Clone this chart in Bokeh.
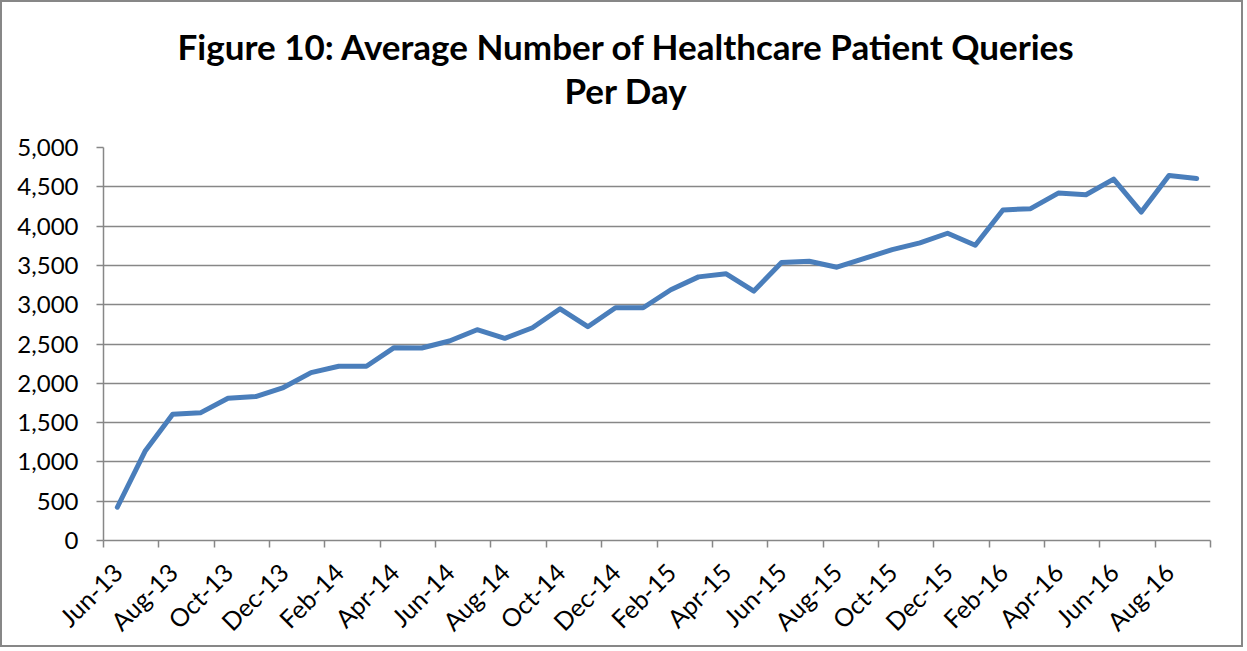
import math
from bokeh.plotting import figure
from bokeh.models import FixedTicker, NumeralTickFormatter, Range1d, Title
from bokeh.embed import file_html
from bokeh.resources import INLINE

months = ["Jun-13", "Jul-13", "Aug-13", "Sep-13", "Oct-13", "Nov-13", "Dec-13",
          "Jan-14", "Feb-14", "Mar-14", "Apr-14", "May-14", "Jun-14", "Jul-14",
          "Aug-14", "Sep-14", "Oct-14", "Nov-14", "Dec-14", "Jan-15", "Feb-15",
          "Mar-15", "Apr-15", "May-15", "Jun-15", "Jul-15", "Aug-15", "Sep-15",
          "Oct-15", "Nov-15", "Dec-15", "Jan-16", "Feb-16", "Mar-16", "Apr-16",
          "May-16", "Jun-16", "Jul-16", "Aug-16", "Sep-16"]
queries = [423, 1134, 1607, 1624, 1810, 1832, 1946, 2136, 2217, 2217,
           2453, 2449, 2538, 2682, 2572, 2707, 2948, 2720, 2961, 2961,
           3190, 3354, 3393, 3173, 3536, 3553, 3477, 3590, 3701, 3786,
           3909, 3756, 4205, 4222, 4420, 4399, 4598, 4179, 4645, 4607]
y_ticks = [0, 500, 1000, 1500, 2000, 2500, 3000, 3500, 4000, 4500, 5000]
title_lines = ["Figure 10: Average Number of Healthcare Patient Queries", "Per Day"]

FONT = "Lato"
GRID = "#878787"

n = len(months)
xs = [i + 0.5 for i in range(n)]

p = figure(width=1243, height=647, output_backend="svg", toolbar_location=None,
           x_range=Range1d(0, n), y_range=Range1d(0, 5000),
           min_border_left=101, min_border_right=35, min_border_top=145,
           min_border_bottom=108)
p.styles = {"border": "2px solid #878787"}
p.outline_line_color = None
p.background_fill_color = "white"
p.border_fill_color = "white"

p.line(xs, queries, line_color="#4A7EBB", line_width=5, line_join="round",
       line_cap="round")

# x axis
label_pos = [xs[i] for i in range(0, n, 2)]
xax = p.xaxis[0]
xax.ticker = FixedTicker(ticks=label_pos, minor_ticks=list(range(0, n + 1, 2)))
xax.major_label_overrides = {xs[i]: months[i] for i in range(0, n, 2)}
xax.major_label_orientation = math.pi / 4
xax.major_tick_out = 0
xax.major_tick_in = 0
xax.minor_tick_out = 7
xax.minor_tick_in = 0
xax.minor_tick_line_color = GRID
xax.minor_tick_line_width = 1.5
xax.axis_line_color = GRID
xax.axis_line_width = 1.5
xax.major_label_standoff = 20
xax.major_label_text_font = FONT
xax.major_label_text_font_size = "25px"
xax.major_label_text_color = "black"

# y axis
yax = p.yaxis[0]
yax.ticker = FixedTicker(ticks=y_ticks, minor_ticks=[])
yax.formatter = NumeralTickFormatter(format="0,0")
yax.major_tick_out = 7
yax.major_tick_in = 0
yax.major_tick_line_color = GRID
yax.major_tick_line_width = 1.5
yax.axis_line_color = GRID
yax.axis_line_width = 1.5
yax.major_label_standoff = 18
yax.major_label_text_font = FONT
yax.major_label_text_font_size = "24px"
yax.major_label_text_color = "black"

p.xgrid.visible = False
p.ygrid.grid_line_color = GRID
p.ygrid.grid_line_width = 1.5

# title: spacer next to the frame, then the two title lines
spacer = Title(text=" ", text_font_size="1px", standoff=34)
t2 = Title(text=title_lines[1], align="left", offset=461, standoff=0,
           text_font=FONT, text_font_size="35px", text_font_style="bold",
           text_color="black")
t1 = Title(text=title_lines[0], align="left", offset=74, standoff=0,
           text_font=FONT, text_font_size="35px", text_font_style="bold",
           text_color="black")
p.add_layout(spacer, "above")
p.add_layout(t2, "above")
p.add_layout(t1, "above")

open("out.html", "w").write(file_html(p, INLINE))
